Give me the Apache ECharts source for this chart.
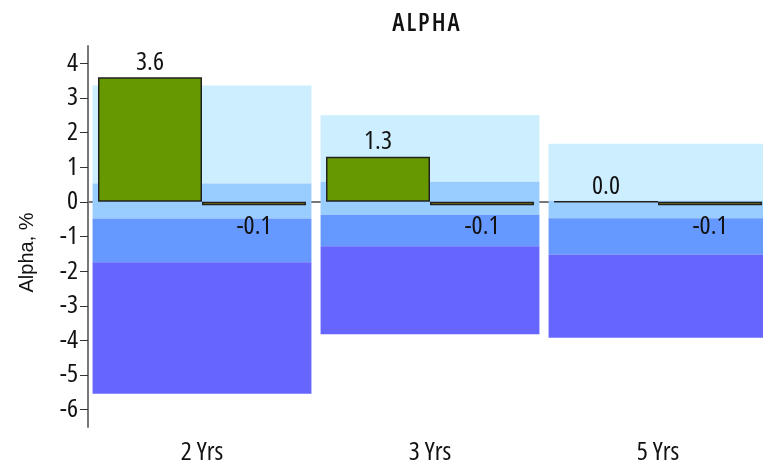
<!DOCTYPE html>
<html>
<head>
<meta charset="utf-8">
<script src="https://cdn.jsdelivr.net/npm/echarts@6/dist/echarts.min.js"></script>
<style>
html,body{margin:0;padding:0;background:#fff;}
#chart{width:763px;height:466px;}
</style>
</head>
<body>
<div id="chart"></div>
<script>
var categories = ['2 Yrs', '3 Yrs', '5 Yrs'];
var fundAlpha = [3.6, 1.3, 0.0];
var benchAlpha = [-0.1, -0.1, -0.1];
// peer range boundaries (top to bottom)
var rangeTop = [3.36, 2.50, 1.68];
var rangeQ1 = [0.53, 0.58, 0.03];
var rangeMedian = [-0.48, -0.37, -0.47];
var rangeQ3 = [-1.74, -1.28, -1.53];
var rangeBottom = [-5.54, -3.82, -3.92];
var yTicks = [-6, -5, -4, -3, -2, -1, 0, 1, 2, 3, 4];

// condensed Open Sans: canvas font shorthand cannot carry font-stretch, so set it after font
(function () {
  var proto = CanvasRenderingContext2D.prototype;
  var desc = Object.getOwnPropertyDescriptor(proto, 'font');
  if (desc && desc.set && 'fontStretch' in proto) {
    Object.defineProperty(proto, 'font', {
      configurable: true,
      get: desc.get,
      set: function (v) {
        desc.set.call(this, v);
        var cond = /OSCond|OSTitle/.test(v);
        this.fontStretch = cond ? 'condensed' : 'normal';
        if ('letterSpacing' in this) {
          this.letterSpacing = /OSTitle/.test(v) ? '2px' : '0px';
        }
      }
    });
  }
})();

var FONT = '"OSCond", "Open Sans", sans-serif';
var TITLE_FONT = '"OSTitle", "Open Sans", sans-serif';
var NAME_FONT = '"Liberation Sans", Arial, sans-serif';
var bandColors = ['#cceeff', '#99ccff', '#6699ff', '#6666ff'];

var bandData = [];
for (var i = 0; i < categories.length; i++) {
  var b = [rangeTop[i], rangeQ1[i], rangeMedian[i], rangeQ3[i], rangeBottom[i]];
  for (var k = 0; k < 4; k++) {
    bandData.push({ value: [i, b[k], b[k + 1], k] });
  }
}

var chart = echarts.init(document.getElementById('chart'));
chart.setOption({
  animation: false,
  title: {
    text: 'ALPHA',
    left: 422, top: 5, textAlign: 'center',
    textStyle: { fontFamily: TITLE_FONT, fontSize: 25, fontWeight: 600, color: '#111' }
  },
  grid: { left: 88, width: 684, top: 46, bottom: 39, outerBoundsMode: 'none', containLabel: false },
  xAxis: {
    type: 'category',
    data: categories,
    axisLine: { lineStyle: { color: '#777', width: 2 } },
    axisTick: { alignWithLabel: true, length: 8, lineStyle: { color: '#333' } },
    axisLabel: { fontFamily: FONT, fontSize: 26, fontWeight: 400, color: '#111', margin: 13 }
  },
  yAxis: {
    type: 'value',
    min: -6.5, max: 4.5, splitNumber: 11,
    name: 'Alpha, %',
    nameLocation: 'middle',
    nameGap: 51,
    nameTextStyle: { fontFamily: NAME_FONT, fontSize: 20, color: '#111', padding: [0, 32, 0, 0] },
    axisLine: { show: true, lineStyle: { color: '#777', width: 2 } },
    axisTick: { show: true, length: 8, customValues: yTicks, lineStyle: { color: '#333' } },
    axisLabel: { fontFamily: FONT, fontSize: 26, fontWeight: 400, color: '#111', margin: 10, customValues: yTicks },
    splitLine: { show: false }
  },
  series: [
    {
      type: 'custom', z: 0, silent: true,
      data: [[0, 0]],
      renderItem: function (params, api) {
        var cs = params.coordSys;
        var y = Math.round(api.coord([0, 0])[1]) + 0.5;
        return {
          type: 'line',
          shape: { x1: cs.x, y1: y, x2: cs.x + cs.width, y2: y },
          style: { stroke: '#000', lineWidth: 1 }
        };
      }
    },
    {
      type: 'custom', z: 1, silent: true,
      data: bandData,
      encode: { x: 0, y: [1, 2] },
      renderItem: function (params, api) {
        var idx = api.value(0);
        var p1 = api.coord([idx, api.value(1)]);
        var p2 = api.coord([idx, api.value(2)]);
        var w = api.size([1, 0])[0] * 0.96;
        return {
          type: 'rect',
          shape: { x: p1[0] - w / 2, y: p1[1], width: w, height: p2[1] - p1[1] },
          style: { fill: bandColors[api.value(3)] }
        };
      }
    },
    {
      type: 'bar', z: 2, name: 'Fund',
      data: fundAlpha,
      barWidth: 104, barGap: '0%',
      itemStyle: { color: '#669900', borderColor: '#222', borderWidth: 1.5 },
      label: {
        show: true, position: 'top', distance: 2,
        fontFamily: FONT, fontSize: 26, fontWeight: 400, color: '#111',
        formatter: function (p) { return p.value.toFixed(1); }
      }
    },
    {
      type: 'bar', z: 2, name: 'Benchmark',
      data: benchAlpha,
      barWidth: 104, barGap: '0%',
      itemStyle: { color: '#999900', borderColor: '#222', borderWidth: 1.5 },
      label: {
        show: true, position: 'bottom', distance: 8,
        fontFamily: FONT, fontSize: 26, fontWeight: 400, color: '#111',
        formatter: function (p) { return p.value.toFixed(1); }
      }
    }
  ]
});
</script>
</body>
</html>
